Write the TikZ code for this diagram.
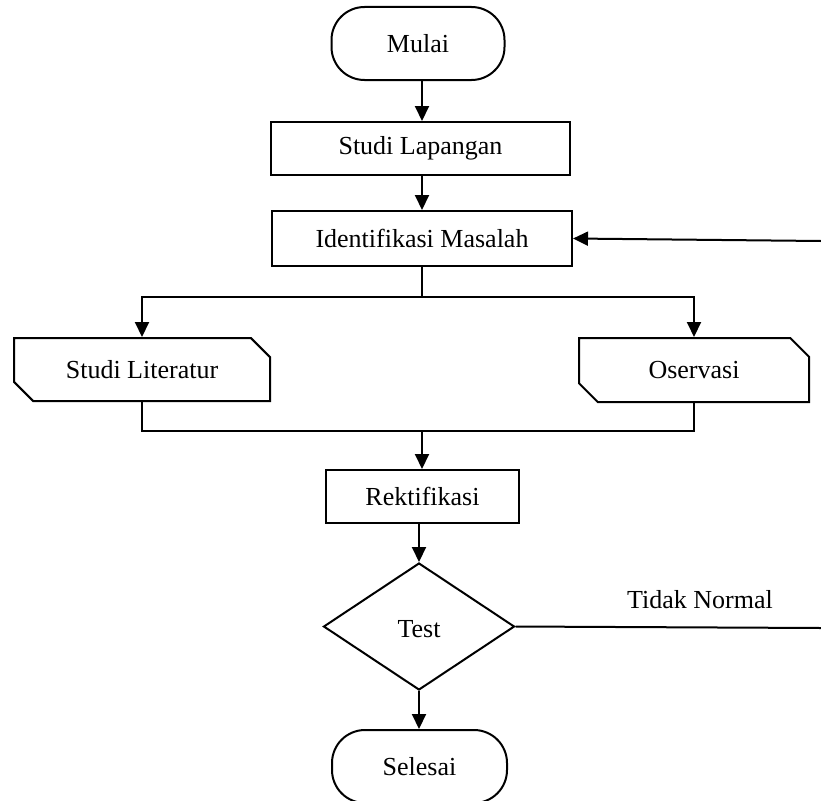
\documentclass[tikz,border=0pt]{standalone}
\usepackage{fontspec}
\setmainfont{Liberation Serif}
\usetikzlibrary{arrows.meta,shapes.geometric,shapes.misc}
\begin{document}
\begin{tikzpicture}[x=1pt,y=-1pt,
  every node/.style={font=\fontsize{26}{30}\selectfont, inner sep=0pt},
  line/.style={line width=2pt},
  arr/.style={line width=2pt, -{Triangle[length=15pt,width=14pt]}},
  procbox/.style={draw, line width=2pt, rectangle},
  termbox/.style={draw, line width=2pt, rectangle, rounded corners=33pt},
  cardbox/.style={draw, line width=2pt, chamfered rectangle,
     chamfered rectangle corners={north east,south west},
     chamfered rectangle xsep=10pt, chamfered rectangle ysep=10pt},
  decbox/.style={draw, line width=2pt, diamond, aspect=1.5}
]
\useasboundingbox (0,0) rectangle (821,800);
\node[termbox, minimum width=173pt, minimum height=73pt] (mulai) at (418,43.5) {Mulai};
\node[procbox, minimum width=299pt, minimum height=53pt] (lap) at (420.5,148.5) {Studi Lapangan};
\node[procbox, minimum width=300pt, minimum height=55pt] (idm) at (422,238.5) {Identifikasi Masalah};
\node[cardbox, minimum width=256pt, minimum height=63pt] (lit) at (142,369.5) {Studi Literatur};
\node[cardbox, minimum width=230pt, minimum height=64pt] (obs) at (694,370) {Oservasi};
\node[procbox, minimum width=193pt, minimum height=53pt] (rek) at (422.5,496.5) {Rektifikasi};
\node[decbox, minimum width=191pt, minimum height=127pt] (test) at (419,626.5) {};
\node (testlbl) at (419,629) {Test};
\node[termbox, minimum width=175pt, minimum height=73pt] (sel) at (419.5,766.5) {Selesai};
\node (tn) at (700,600) {Tidak Normal};

\coordinate (fb1) at (821,241);
\coordinate (fb2) at (821,628);
\coordinate (sp) at (422,297);
\coordinate (mg) at (422,431);

\draw[arr] (mulai.south -| idm.north) -- (lap.north -| idm.north);
\draw[arr] (lap.south -| idm.north) -- (idm.north);
\draw[arr] (fb1) -- (idm.east);
\draw[line] (idm.south) -- (sp);
\draw[arr] (sp) -| (lit.north);
\draw[arr] (sp) -| (obs.north);
\draw[line] (lit.south) |- (mg);
\draw[line] (obs.south) |- (mg);
\draw[arr] (mg) -- (rek.north -| mg);
\draw[arr] (rek.south -| test.north) -- (test.north);
\draw[line] (test.east) -- (fb2);
\draw[arr] (test.south) -- (sel.north -| test.south);
\end{tikzpicture}
\end{document}
